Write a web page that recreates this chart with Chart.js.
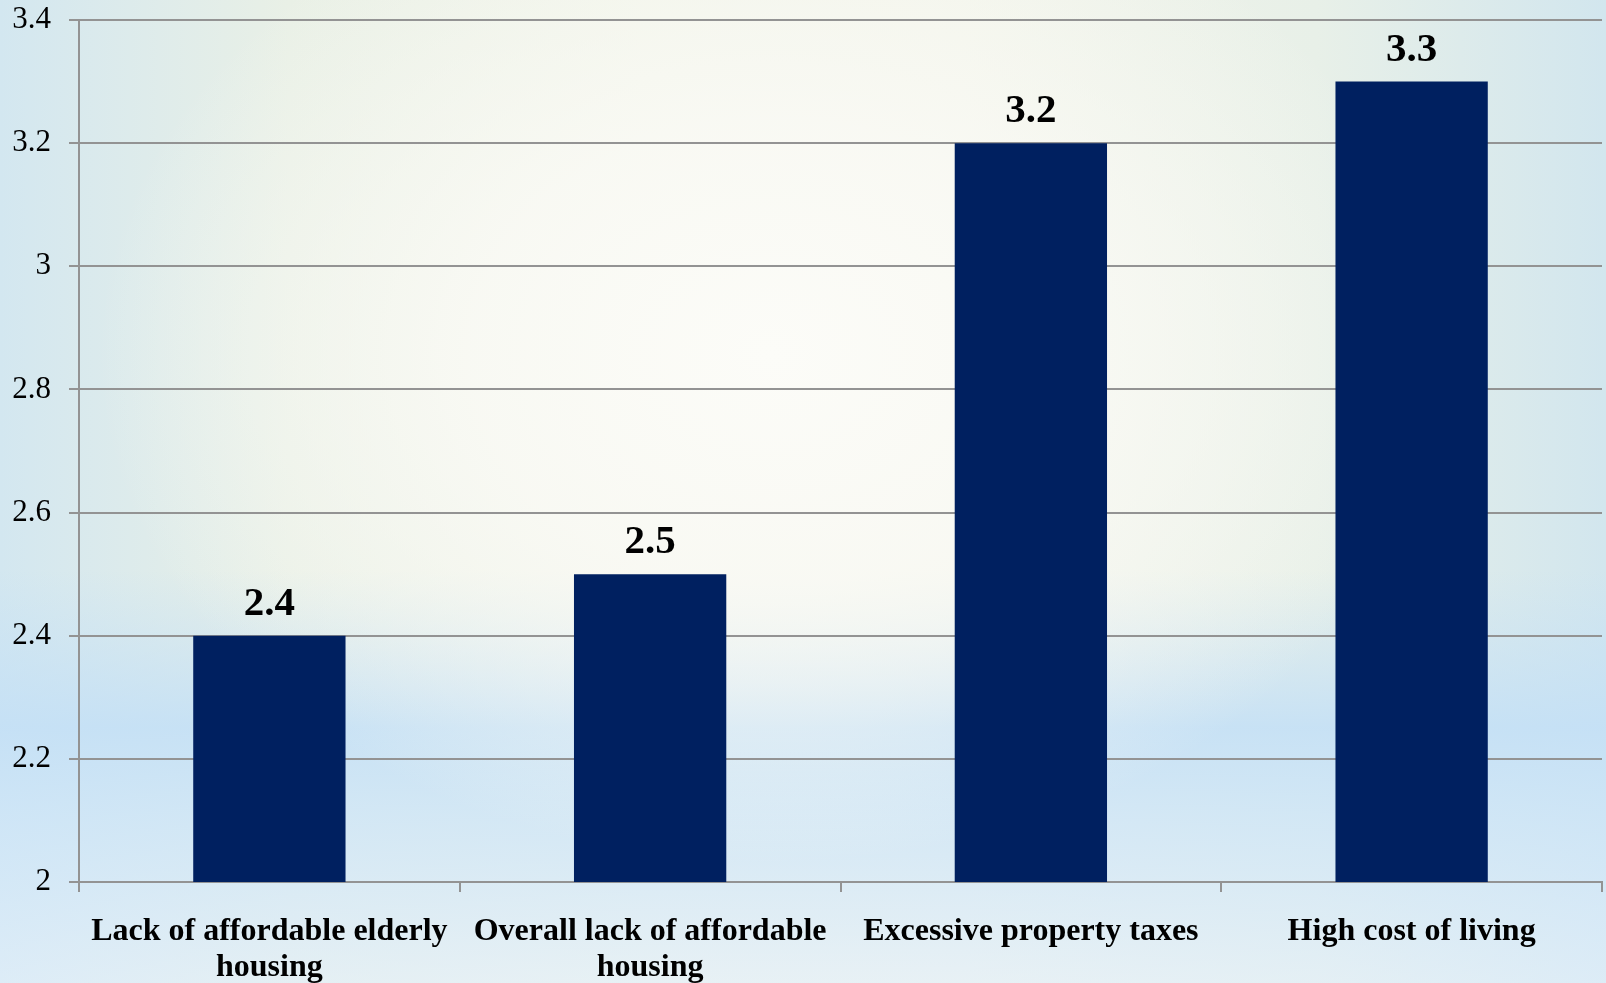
<!DOCTYPE html>
<html>
<head>
<meta charset="utf-8">
<script src="https://cdn.jsdelivr.net/npm/chart.js@4/dist/chart.umd.min.js"></script>
<style>
html,body{margin:0;padding:0;width:1606px;height:983px;overflow:hidden;}
body{
  background:
    radial-gradient(ellipse 42% 52% at 48% 36%, rgba(252,252,248,1) 0%, rgba(250,250,245,0.85) 45%, rgba(248,249,242,0) 100%),
    linear-gradient(to bottom, rgba(210,232,248,0) 0%, rgba(210,232,248,0) 58%, rgba(196,224,246,0.9) 74%, rgba(205,229,248,0.8) 83%, rgba(226,239,251,0.65) 100%),
    linear-gradient(to right, #d3e7f0 0%, #e9f0e6 18%, #f1f4e9 40%, #f2f4ea 60%, #e8f0e8 82%, #d2e6ee 100%);
}
#wrap{position:absolute;left:0;top:0;width:1606px;height:983px;}
</style>
</head>
<body>
<div id="wrap"><canvas id="c" width="1606" height="983"></canvas></div>
<script>
const categories = [
  ["Lack of affordable elderly", "housing"],
  ["Overall lack of affordable", "housing"],
  ["Excessive property taxes"],
  ["High cost of living"]
];
const values = [2.4, 2.5, 3.2, 3.3];
const valueLabels = ["2.4", "2.5", "3.2", "3.3"];
const yMin = 2, yMax = 3.4, yStep = 0.2;

const dataLabelPlugin = {
  id: 'dataLabels',
  afterDatasetsDraw(chart) {
    const ctx = chart.ctx;
    const meta = chart.getDatasetMeta(0);
    ctx.save();
    ctx.font = 'bold 41px "Liberation Serif", "Times New Roman", serif';
    ctx.fillStyle = '#000';
    ctx.textAlign = 'center';
    ctx.textBaseline = 'alphabetic';
    meta.data.forEach((bar, i) => {
      ctx.fillText(valueLabels[i], bar.x, bar.y - 21);
    });
    ctx.restore();
  }
};

new Chart(document.getElementById('c'), {
  type: 'bar',
  data: {
    labels: categories,
    datasets: [{
      data: values,
      backgroundColor: '#002060',
      borderWidth: 0,
      barPercentage: 0.4,
      categoryPercentage: 1.0
    }]
  },
  options: {
    responsive: false,
    animation: false,
    devicePixelRatio: 1,
    layout: { padding: { top: 20, right: 4, left: 0, bottom: 0 } },
    plugins: { legend: { display: false }, tooltip: { enabled: false } },
    scales: {
      x: {
        offset: true,
        grid: { display: true, drawOnChartArea: false, drawTicks: true, tickLength: 10, color: '#939393', lineWidth: 2, offset: true },
        border: { display: true, color: '#939393', width: 2 },
        ticks: {
          color: '#000',
          padding: 22,
          maxRotation: 0,
          autoSkip: false,
          font: { family: '"Liberation Serif", "Times New Roman", serif', size: 32, weight: 'bold', lineHeight: 1.125 }
        },
        afterFit(scale) { scale.height = 101; scale.paddingLeft = 0; scale.paddingRight = 0; }
      },
      y: {
        min: yMin,
        max: yMax,
        grid: { color: '#939393', lineWidth: 2, drawTicks: true, tickLength: 10 },
        border: { display: true, color: '#939393', width: 2 },
        ticks: {
          stepSize: yStep,
          color: '#000',
          padding: 18,
          font: { family: '"Liberation Serif", "Times New Roman", serif', size: 31 },
          callback: v => String(+Number(v).toFixed(1))
        },
        afterFit(scale) { scale.width = 79; scale.paddingTop = 0; scale.paddingBottom = 0; }
      }
    }
  },
  plugins: [dataLabelPlugin]
});
</script>
</body>
</html>
